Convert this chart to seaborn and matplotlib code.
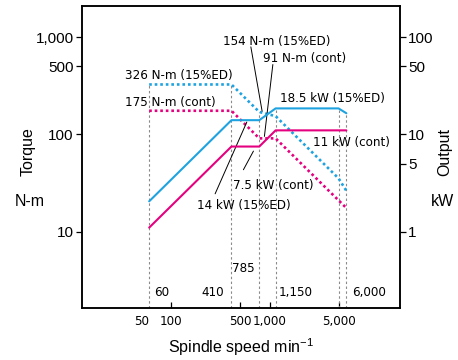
import numpy as np
import pandas as pd
import matplotlib
matplotlib.use("Agg")
import matplotlib.pyplot as plt
import seaborn as sns
from matplotlib import font_manager

# ---------------- data ----------------
speed_15 = [60, 410, 785, 1150, 5000, 6000]
torque_15 = [326, 326, 170, 154, 35.3, 26.3]      # N-m (15%ED)
power_15 = [2.05, 14, 14, 18.5, 18.5, 16.5]       # kW (15%ED)

speed_cont = [60, 410, 785, 1150, 6000]
torque_cont = [175, 175, 91, 91, 17.5]            # N-m (cont)
power_cont = [1.1, 7.5, 7.5, 11, 11]              # kW (cont)

guide_speeds = [60, 410, 785, 1150, 5000, 6000]
guide_tops = [326, 326, 170, 185, 185, 165]       # in torque-axis units

speed_labels = ["60", "410", "785", "1,150", "6,000"]
x_ticks = [50, 100, 500, 1000, 5000]
x_ticklabels = ["50", "100", "500", "1,000", "5,000"]
yl_ticks = [10, 100, 500, 1000]
yl_ticklabels = ["10", "100", "500", "1,000"]
yr_ticks = [1, 5, 10, 50, 100]
yr_ticklabels = ["1", "5", "10", "50", "100"]

BLUE = "#1ea3e0"
MAGENTA = "#e5007f"

# ---------------- style ----------------
sns.set_style("ticks")
plt.rcParams["font.family"] = ["Liberation Sans", "DejaVu Sans"]
plt.rcParams["mathtext.default"] = "regular"
plt.rcParams["text.color"] = "black"
plt.rcParams["axes.labelcolor"] = "black"
plt.rcParams["xtick.color"] = "black"
plt.rcParams["ytick.color"] = "black"

names = {f.name for f in font_manager.fontManager.ttflist}
if "Liberation Sans Narrow" in names:
    NARROW = dict(family=["Liberation Sans Narrow", "Liberation Sans"], fontsize=11)
else:
    NARROW = dict(family=["DejaVu Sans"], fontstretch="condensed", fontsize=9.5)

fig = plt.figure(figsize=(4.58, 3.6), dpi=100)
ax = fig.add_axes([82 / 458, 1 - 308 / 360, (400 - 82) / 458, (308 - 6) / 360])
ax2 = ax.twinx()

ax.set_xscale("log")
ax.set_yscale("log")
ax2.set_yscale("log")
XLIM = (12.5, 21000)
YLIM = (1.64, 2090)
ax.set_xlim(*XLIM)
ax.set_ylim(*YLIM)
ax2.set_ylim(YLIM[0] / 10, YLIM[1] / 10)

# guide lines
ax.vlines(guide_speeds, YLIM[0], guide_tops, colors="#8a8a8a",
          linestyles=(0, (2.2, 2.2)), linewidth=0.8, zorder=1)

df15 = pd.DataFrame({"speed": speed_15, "torque": torque_15, "power": power_15})
dfc = pd.DataFrame({"speed": speed_cont, "torque": torque_cont, "power": power_cont})

sns.lineplot(data=df15, x="speed", y="torque", ax=ax, color=BLUE,
             linestyle=(0, (1, 1.1)), linewidth=1.9, estimator=None, sort=False)
sns.lineplot(data=dfc, x="speed", y="torque", ax=ax, color=MAGENTA,
             linestyle=(0, (1, 1.1)), linewidth=1.9, estimator=None, sort=False)
sns.lineplot(data=df15, x="speed", y="power", ax=ax2, color=BLUE,
             linewidth=1.5, estimator=None, sort=False)
sns.lineplot(data=dfc, x="speed", y="power", ax=ax2, color=MAGENTA,
             linewidth=1.5, estimator=None, sort=False)

# ticks
ax.set_xticks(x_ticks)
ax.set_xticklabels(x_ticklabels, color="black", **NARROW)
ax.xaxis.set_minor_locator(matplotlib.ticker.NullLocator())
ax.set_yticks(yl_ticks)
ax.set_yticklabels(yl_ticklabels, fontsize=11, color="black")
ax.yaxis.set_minor_locator(matplotlib.ticker.NullLocator())
ax2.set_yticks(yr_ticks)
ax2.set_yticklabels(yr_ticklabels, fontsize=11, color="black")
ax2.yaxis.set_minor_locator(matplotlib.ticker.NullLocator())
ax.tick_params(axis="x", direction="in", length=4, width=0.9, pad=5, colors="black")
ax.tick_params(axis="y", direction="out", length=4, width=0.9, pad=2, colors="black")
ax2.tick_params(axis="y", direction="out", length=4, width=0.9, pad=2, colors="black")
ax.xaxis.get_major_ticks()[0].tick1line.set_visible(False)
ax.set_xlabel("")
ax.set_ylabel("")
ax2.set_ylabel("")
for a in (ax, ax2):
    for s in a.spines.values():
        s.set_visible(True)
        s.set_linewidth(1.1)
        s.set_color("black")

# speed labels
speed_label_pos = [(67.2, 2.35, "left"), (345, 2.35, "right"), (416, 4.16, "left"),
                   (1248, 2.35, "left"), (6840, 2.35, "left")]
for (x, y, ha), s in zip(speed_label_pos, speed_labels):
    ax.text(x, y, s, ha=ha, va="center", color="black", **NARROW)

# curve annotations (position in speed / torque-axis units)
notes = [
    ("326 N-m (15%ED)", 34.1, 405),
    ("175 N-m (cont)", 34.1, 215),
    ("154 N-m (15%ED)", 337, 896),
    ("91 N-m (cont)", 859, 608),
    ("18.5 kW (15%ED)", 1278, 235),
    ("11 kW (cont)", 2766, 83.3),
    ("7.5 kW (cont)", 426, 29.8),
    ("14 kW (15%ED)", 184, 18.5),
]
for s, x, y in notes:
    ax.text(x, y, s, ha="left", va="center", color="black", **NARROW)

leaders = [
    ((645, 794), (839, 173)),
    ((1078, 523), (885, 95.3)),
    ((685, 67.3), (542, 43.3)),
    ((587, 134), (280, 24.5)),
]
for (x0, y0), (x1, y1) in leaders:
    ax.plot([x0, x1], [y0, y1], color="black", linewidth=0.7, zorder=5)

# axis titles
fig.text(240.8 / 458, 1 - 346.7 / 360, "Spindle speed min$^{-1}$", ha="center",
         va="center", fontsize=11.5, color="black")
fig.text(28 / 458, 1 - 151.5 / 360, "Torque", rotation=90, ha="center",
         va="center", fontsize=11.5, color="black")
fig.text(30 / 458, 1 - 201.7 / 360, "N-m", ha="center", va="center",
         fontsize=11.5, color="black")
fig.text(445 / 458, 1 - 151.7 / 360, "Output", rotation=90, ha="center",
         va="center", fontsize=11.5, color="black")
fig.text(443 / 458, 1 - 201 / 360, "kW", ha="center", va="center",
         fontsize=11.5, color="black")

fig.savefig("out.png", dpi=100)
